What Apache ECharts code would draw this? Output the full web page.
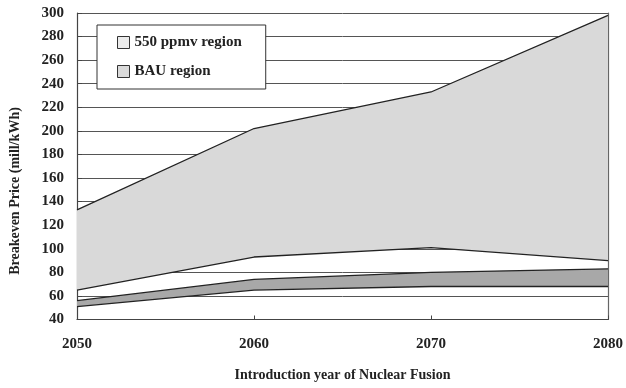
<!DOCTYPE html>
<html>
<head>
<meta charset="utf-8">
<script src="https://cdn.jsdelivr.net/npm/echarts@6/dist/echarts.min.js"></script>
<style>html,body{margin:0;padding:0;background:#fff}#c{width:626px;height:388px}</style>
</head>
<body>
<div id="c"></div>
<script>
var years = ['2050', '2060', '2070', '2080'];
var bauLower = [51, 65, 68, 68];
var bauUpper = [56, 74, 80, 83];
var ppmvLower = [65, 93, 101, 90];
var ppmvUpper = [133, 202, 233, 298];
var yTicks = [40, 60, 80, 100, 120, 140, 160, 180, 200, 220, 240, 260, 280, 300];

function diff(a, b) { return a.map(function (v, i) { return v - b[i]; }); }

var FONT = '"Liberation Serif", "Times New Roman", serif';
var chart = echarts.init(document.getElementById('c'));
var lineSt = { color: '#222', width: 1.3 };
chart.setOption({
  animation: false,
  backgroundColor: '#fff',
  grid: { left: 77, right: 14, top: 13, bottom: 68.5 },
  xAxis: {
    type: 'category', data: years, boundaryGap: false,
    name: 'Introduction year of Nuclear Fusion', nameLocation: 'middle', nameGap: 49,
    nameTextStyle: { fontFamily: FONT, fontWeight: 'bold', fontSize: 14, color: '#222' },
    axisLine: { show: true, lineStyle: { color: '#444', width: 1.2 } },
    axisTick: { show: true, inside: true, length: 4, lineStyle: { color: '#444' } },
    axisLabel: { fontFamily: FONT, fontWeight: 'bold', fontSize: 15, color: '#222', margin: 17 },
    splitLine: { show: false }
  },
  yAxis: [{
    type: 'value', min: 40, max: 300, interval: 20,
    axisLine: { show: true, lineStyle: { color: '#444', width: 1.2 } },
    axisTick: { show: true, inside: true, length: 5, lineStyle: { color: '#444' } },
    axisLabel: { fontFamily: FONT, fontWeight: 'bold', fontSize: 15, color: '#222', margin: 13,
      formatter: function (v) { return yTicks.indexOf(v) >= 0 ? String(v) : ''; } },
    splitLine: { show: true, lineStyle: { color: '#555', width: 1 } }
  }, {
    type: 'value', min: 40, max: 300, interval: 20, position: 'right',
    axisLine: { show: true, lineStyle: { color: '#666', width: 1.2 } },
    axisTick: { show: false }, axisLabel: { show: false }, splitLine: { show: false }
  }],
  legend: {
    left: 97, top: 25, orient: 'vertical',
    backgroundColor: '#fff', borderColor: '#333', borderWidth: 1,
    padding: [10, 24, 10, 20], itemGap: 14, itemWidth: 12, itemHeight: 12,
    textStyle: { fontFamily: FONT, fontWeight: 'bold', fontSize: 15, color: '#222' },
    data: [
      { name: '550 ppmv region', icon: 'rect', itemStyle: { color: '#ebebeb', borderColor: '#333', borderWidth: 1 } },
      { name: 'BAU region', icon: 'rect', itemStyle: { color: '#dadada', borderColor: '#333', borderWidth: 1 } }
    ]
  },
  series: [
    { name: 'ppmv base', type: 'line', stack: 'p', data: ppmvLower, symbol: 'none', lineStyle: lineSt, z: 3 },
    { name: 'ppmv band', type: 'line', stack: 'p', data: diff(ppmvUpper, ppmvLower), symbol: 'none',
      lineStyle: lineSt, areaStyle: { color: '#d9d9d9', opacity: 1 }, z: 2 },
    { name: 'bau base', type: 'line', stack: 'b', data: bauLower, symbol: 'none', lineStyle: lineSt, z: 3 },
    { name: 'bau band', type: 'line', stack: 'b', data: diff(bauUpper, bauLower), symbol: 'none',
      lineStyle: lineSt, areaStyle: { color: '#a8a8a8', opacity: 1 }, z: 2 },
    { name: '550 ppmv region', type: 'line', data: [], symbol: 'rect', itemStyle: { color: '#ebebeb' }, lineStyle: { color: '#333' } },
    { name: 'BAU region', type: 'line', data: [], symbol: 'rect', itemStyle: { color: '#dadada' }, lineStyle: { color: '#333' } }
  ],
  graphic: [{
    type: 'text', x: 15, y: 191, rotation: Math.PI / 2,
    style: { text: 'Breakeven Price (mill/kWh)', font: 'bold 14px ' + FONT, fill: '#222',
      textAlign: 'center', textVerticalAlign: 'middle' }
  }]
});
</script>
</body>
</html>
